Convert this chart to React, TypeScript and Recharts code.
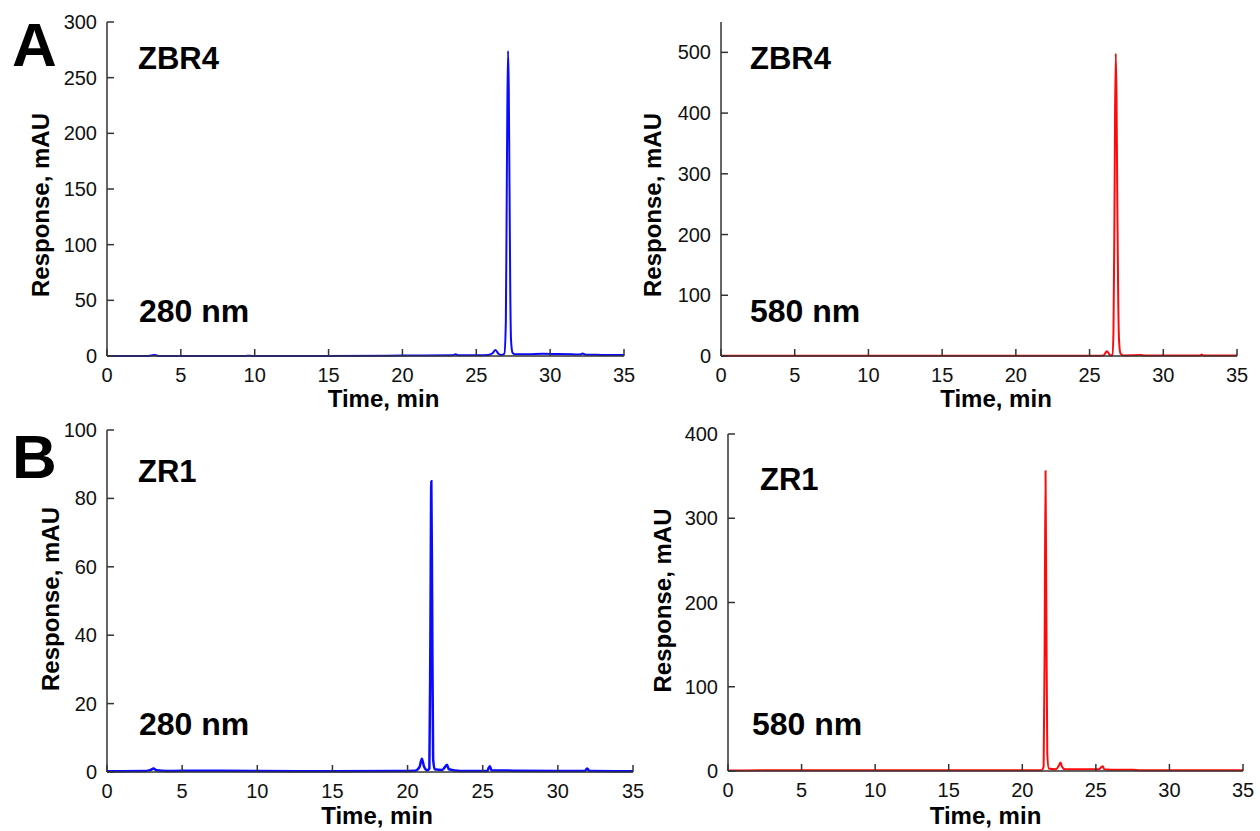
import React from "react";
import { LineChart, Line, XAxis, YAxis } from "recharts";

// retention time (min), response (mAU)
const zbr4At280: [number, number][] = [
  [0, 0.1], [2.8, 0.1], [3.0, 0.4], [3.2, 1.0], [3.4, 0.3], [3.7, 0.1],
  [9.4, 0.1], [9.6, 0.3], [9.8, 0.1], [15, 0.1], [19, 0.3], [21, 0.4],
  [23.4, 0.6], [23.6, 1.5], [23.8, 0.6], [25, 0.7], [25.8, 1.0], [26.1, 2.5],
  [26.3, 5.5], [26.5, 2], [26.7, 1], [26.9, 2], [27.0, 30], [27.05, 120],
  [27.1, 220], [27.15, 274], [27.2, 240], [27.25, 150], [27.3, 60], [27.35, 15],
  [27.45, 3], [27.6, 1.5], [28.5, 1.5], [29.5, 2.0], [30.5, 1.8], [31.5, 1.5],
  [32.0, 1.3], [32.2, 2.2], [32.4, 1.2], [33.5, 1.0], [35, 0.8],
];

const zbr4At580: [number, number][] = [
  [0, 0.5], [3, 0.5], [10, 0.5], [20, 0.5], [25.5, 0.5], [25.95, 1],
  [26.1, 6], [26.18, 8], [26.28, 5], [26.4, 1], [26.55, 2], [26.62, 40],
  [26.68, 200], [26.73, 400], [26.78, 498], [26.83, 420], [26.88, 260],
  [26.94, 100], [27.0, 25], [27.1, 4], [27.3, 1], [28.5, 1.5], [28.7, 0.8],
  [29.5, 1], [32.5, 1], [32.6, 2.5], [32.7, 1], [35, 0.8],
];

const zr1At280: [number, number][] = [
  [0, 0.2], [2.6, 0.3], [2.9, 0.6], [3.1, 1.0], [3.3, 0.5], [4, 0.3],
  [6, 0.4], [10, 0.3], [15, 0.2], [19, 0.3], [20.5, 0.4], [20.8, 1.5],
  [20.95, 3.9], [21.1, 1.5], [21.3, 0.5], [21.45, 1], [21.52, 40], [21.58, 85],
  [21.64, 45], [21.7, 4], [21.8, 0.8], [22.3, 0.6], [22.5, 1.5], [22.62, 2.1],
  [22.75, 0.8], [23.5, 0.3], [25.3, 0.3], [25.4, 1.2], [25.48, 1.7],
  [25.58, 0.5], [27, 0.4], [30, 0.3], [31.8, 0.3], [31.95, 1.0], [32.1, 0.3],
  [35, 0.2],
];

const zr1At580: [number, number][] = [
  [0, 0.5], [3, 0.8], [10, 0.8], [18, 1], [20, 1], [21.3, 1], [21.45, 5],
  [21.52, 150], [21.58, 356], [21.64, 180], [21.7, 20], [21.8, 3], [22.3, 2],
  [22.5, 7], [22.6, 10], [22.7, 5], [22.9, 2], [25.2, 2], [25.4, 5],
  [25.48, 5.5], [25.56, 2], [26, 1.5], [27.5, 1.5], [28, 0.8], [35, 0.8],
];

const timeTicks = [0, 5, 10, 15, 20, 25, 30, 35];
const ticksA280 = [0, 50, 100, 150, 200, 250, 300];
const ticksA580 = [0, 100, 200, 300, 400, 500];
const ticksB280 = [0, 20, 40, 60, 80, 100];
const ticksB580 = [0, 100, 200, 300, 400];

const FONT = "'Liberation Sans', Arial, sans-serif";
const AXIS = "#333";
const BLUE = "#0a0aff";
const RED = "#ff0a0a";

const BottomTick = (p: any) => (
  <g>
    <line x1={p.x} x2={p.x} y1={p.y} y2={p.y - 7} stroke={AXIS} strokeWidth={1.5} />
    <text x={p.x} y={p.y + 26} textAnchor="middle" fontSize={20} fontFamily={FONT} fill="#111">
      {p.payload.value}
    </text>
  </g>
);
const TopTick = (p: any) => (
  <line x1={p.x} x2={p.x} y1={p.y} y2={p.y + 7} stroke={AXIS} strokeWidth={1.5} />
);
const LeftTick = (p: any) => (
  <g>
    <line x1={p.x} x2={p.x + 7} y1={p.y} y2={p.y} stroke={AXIS} strokeWidth={1.5} />
    <text x={p.x - 10} y={p.y + 7} textAnchor="end" fontSize={20} fontFamily={FONT} fill="#111">
      {p.payload.value}
    </text>
  </g>
);
const RightTick = (p: any) => (
  <line x1={p.x} x2={p.x - 7} y1={p.y} y2={p.y} stroke={AXIS} strokeWidth={1.5} />
);

const xTitle = (dx: number, dy: number) => (props: any) => {
  const vb = props.viewBox || { x: 0, y: 0, width: 0, height: 0 };
  return (
    <text x={vb.x + vb.width / 2 + dx} y={vb.y + dy} textAnchor="middle"
      fontSize={24} fontWeight="bold" fontFamily={FONT} fill="#000">
      Time, min
    </text>
  );
};
const yTitle = (dx: number, dy: number) => (props: any) => {
  const vb = props.viewBox || { x: 0, y: 0, width: 0, height: 0 };
  const cx = vb.x + dx;
  const cy = vb.y + vb.height / 2 + dy;
  return (
    <text x={cx} y={cy} transform={`rotate(-90 ${cx} ${cy})`} textAnchor="middle"
      dominantBaseline="central" fontSize={24} fontWeight="bold" fontFamily={FONT} fill="#000">
      Response, mAU
    </text>
  );
};

interface PanelProps {
  data: [number, number][];
  color: string;
  strokeWidth: number;
  yMax: number;
  yTicks: number[];
  left: number;
  top: number;
  width: number;
  height: number;
  margin: { top: number; right: number; left: number; bottom: number };
  yAxisWidth: number;
  xAxisHeight: number;
  yTitlePos: [number, number];
  xTitlePos: [number, number];
}

const Panel: React.FC<PanelProps> = (p) => {
  const rows = p.data.map(([t, v]) => ({ t, v }));
  return (
    <div style={{ position: "absolute", left: p.left, top: p.top }}>
      <LineChart width={p.width} height={p.height} data={rows} margin={p.margin}>
        <XAxis
          dataKey="t" type="number" domain={[0, 35]} ticks={timeTicks} interval={0}
          height={p.xAxisHeight} tickSize={0} tickMargin={0} tick={BottomTick}
          axisLine={{ stroke: AXIS, strokeWidth: 1.5 }}
          label={{ content: xTitle(p.xTitlePos[0], p.xTitlePos[1]) }}
        />
        <XAxis
          xAxisId="top" orientation="top" type="number" domain={[0, 35]} allowDataOverflow
          ticks={timeTicks} interval={0} height={0} tickSize={0} tickMargin={0} tick={TopTick}
          axisLine={{ stroke: AXIS, strokeWidth: 1.5 }}
        />
        <YAxis
          type="number" domain={[0, p.yMax]} ticks={p.yTicks} interval={0}
          width={p.yAxisWidth} tickSize={0} tickMargin={0} tick={LeftTick}
          axisLine={{ stroke: AXIS, strokeWidth: 1.5 }}
          label={{ content: yTitle(p.yTitlePos[0], p.yTitlePos[1]) }}
        />
        <YAxis
          yAxisId="right" orientation="right" type="number" domain={[0, p.yMax]} allowDataOverflow
          ticks={p.yTicks} interval={0} width={0} tickSize={0} tickMargin={0} tick={RightTick}
          axisLine={{ stroke: AXIS, strokeWidth: 1.5 }}
        />
        <Line
          type="monotone" dataKey="v" stroke={p.color} strokeWidth={p.strokeWidth}
          dot={false} isAnimationActive={false}
        />
      </LineChart>
    </div>
  );
};

const tag = (x: number, y: number, size: number, s: string) => (
  <text x={x} y={y} fontSize={size} fontWeight="bold" fontFamily={FONT} fill="#000">{s}</text>
);

export default function App() {
  return (
    <div style={{ position: "absolute", left: 0, top: 0, width: 1260, height: 831, background: "#fff" }}>
      <Panel data={zbr4At280} color={BLUE} strokeWidth={2} yMax={300} yTicks={ticksA280}
        left={0} top={0} width={640} height={415}
        margin={{ top: 22, right: 16, left: 0, bottom: 0 }} yAxisWidth={107} xAxisHeight={59}
        yTitlePos={[40, 16]} xTitlePos={[18, 51]} />
      <Panel data={zbr4At580} color={RED} strokeWidth={2} yMax={550} yTicks={ticksA580}
        left={630} top={0} width={630} height={415}
        margin={{ top: 22, right: 23, left: 0, bottom: 0 }} yAxisWidth={91} xAxisHeight={59}
        yTitlePos={[22, 16]} xTitlePos={[17, 51]} />
      <Panel data={zr1At280} color={BLUE} strokeWidth={2.5} yMax={100} yTicks={ticksB280}
        left={0} top={415} width={660} height={416}
        margin={{ top: 15, right: 27, left: 0, bottom: 0 }} yAxisWidth={107} xAxisHeight={59}
        yTitlePos={[50, -2]} xTitlePos={[7, 52]} />
      <Panel data={zr1At580} color={RED} strokeWidth={2} yMax={400} yTicks={ticksB580}
        left={640} top={415} width={620} height={416}
        margin={{ top: 19, right: 17, left: 0, bottom: 0 }} yAxisWidth={88} xAxisHeight={60}
        yTitlePos={[22, -2]} xTitlePos={[0, 53]} />
      <svg width={1260} height={831} style={{ position: "absolute", left: 0, top: 0, pointerEvents: "none" }}>
        {tag(12, 66, 62, "A")}
        {tag(12, 478, 62, "B")}
        {tag(138, 69, 31, "ZBR4")}
        {tag(139, 322, 32, "280 nm")}
        {tag(750, 69, 31, "ZBR4")}
        {tag(750, 322, 32, "580 nm")}
        {tag(138, 482, 31, "ZR1")}
        {tag(139, 735, 32, "280 nm")}
        {tag(760, 490, 31, "ZR1")}
        {tag(752, 735, 32, "580 nm")}
      </svg>
    </div>
  );
}
